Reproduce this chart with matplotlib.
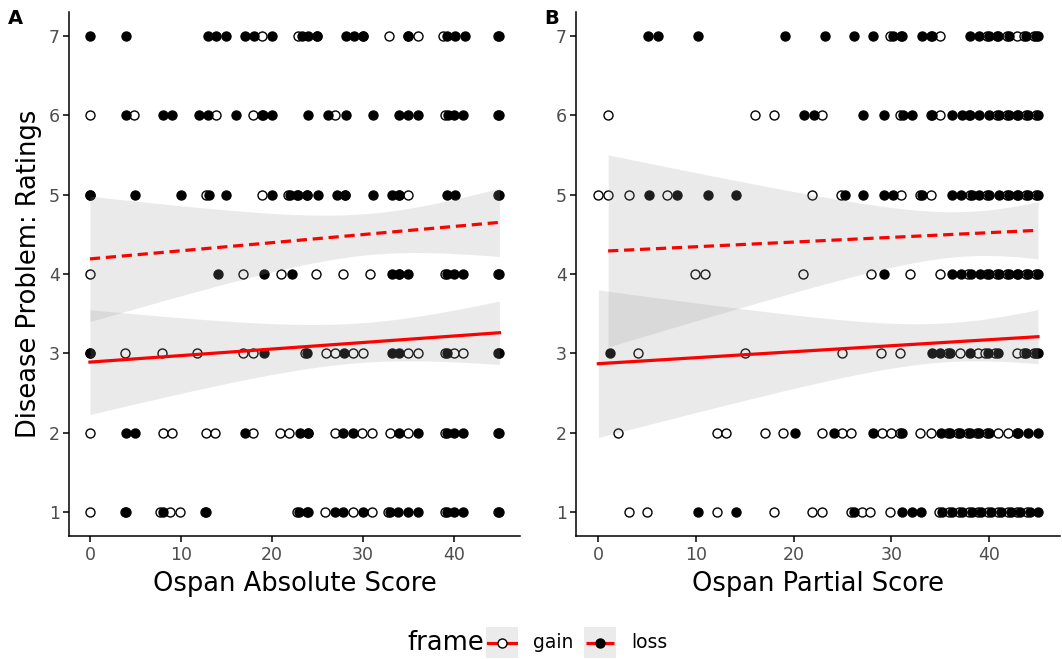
import numpy as np
import matplotlib
matplotlib.use("Agg")
import matplotlib.pyplot as plt

ratings = [7, 6, 5, 4, 3, 2, 1]

# Panel A: Ospan Absolute Score, x values per rating row
a_gain_x = [
    [18.9, 22.9, 24.9, 30, 32.9, 35, 36, 38.8, 44.8],
    [0, 4.8, 13.9, 17.9, 18.9, 26.9, 39, 44.8],
    [0, 12.8, 18.9, 21.8, 22.8, 23.8, 28, 34, 35, 44.8],
    [0, 16.8, 21, 24.8, 27.8, 30.8, 34, 39, 44.8],
    [0, 3.8, 7.9, 11.8, 16.8, 17.9, 23.6, 25.9, 26.9, 28.9, 30, 35, 36, 39, 40, 41, 44.8],
    [0, 8, 9, 12.7, 13.7, 17.9, 20.9, 21.9, 24, 26.9, 29.9, 31, 33, 35, 39, 44.8],
    [0, 3.8, 7.7, 8.8, 9.9, 12.6, 22.8, 23.8, 25.8, 28.9, 31, 32.8, 39, 44.8],
]
a_loss_x = [
    [0, 4, 13, 13.9, 14.9, 17, 18, 20, 23.3, 24, 24.9, 28.1, 29, 30, 34.9, 39.2, 40.1, 41.2, 45],
    [4, 8, 9, 12, 13, 16, 19, 20, 24, 26.2, 28.1, 31.1, 34, 35, 36, 39.3, 40, 41, 45],
    [0, 5, 10, 13.1, 15, 20, 22, 22.9, 23.9, 25.1, 27.1, 28, 31.1, 33.2, 34, 39.2, 40.1, 45],
    [14.1, 19.1, 22.2, 33.2, 34, 35, 39.2, 40, 41, 45],
    [0, 19.1, 23.9, 27.9, 33.2, 34, 39.2, 45],
    [4, 5, 17, 23.1, 24, 27.8, 28.9, 34, 36, 39.2, 40, 41, 45],
    [4, 8, 12.8, 23, 24, 26.9, 27.8, 30, 33, 33.9, 35, 36, 39.2, 40, 41, 45],
]

# Panel B: Ospan Partial Score
b_gain_x = [
    [29.9, 31, 34, 35, 39.8, 40.8, 41.8, 42.9, 43.6, 44.6],
    [1, 16, 18, 22.9, 30.9, 34, 35, 37.9, 40.8, 41.8, 42.8, 43.8, 44.8],
    [0, 1, 3.1, 7, 21.9, 24.8, 31, 32.9, 34, 38, 39.8, 41.8, 42.8, 43.8, 44.8],
    [9.9, 10.9, 20.9, 27.9, 31.9, 35, 37.8, 39.8, 40.8, 41.8, 42.8, 43.8, 44.8],
    [4.1, 15, 24.9, 28.9, 30.9, 35.8, 37, 38.9, 39.6, 40.6, 42.9, 43.6, 44.6],
    [2, 12.1, 13.1, 17.1, 18.9, 22.9, 24.9, 25.9, 29, 30, 30.9, 32.9, 34, 35.8, 36.8,
     37.8, 38.8, 39.8, 40.9, 41.9, 42.8],
    [3.1, 5, 12.1, 18, 21.9, 22.9, 25.9, 27, 27.8, 29.9, 34.9, 35.9, 36.9, 37.9, 38.9,
     39.9, 40.9, 41.9, 42.9, 43.9],
]
b_loss_x = [
    [5.1, 6.1, 10.2, 19.1, 23.2, 26.2, 28.1, 30.2, 31.1, 33.1, 34.1, 38, 39, 40, 40.9, 42,
     43.8, 44.8, 45],
    [21.1, 22.1, 27.1, 29.2, 31.2, 32.1, 34.2, 36.2, 37.2, 38, 39, 40, 41, 42, 43, 44, 45],
    [5.2, 8.1, 11.2, 14.1, 25.2, 27.1, 29.2, 30.2, 33.1, 36.2, 37.1, 38.2, 39, 40, 41, 42,
     43, 44, 45],
    [29.2, 36.2, 37.1, 38.1, 39.1, 40, 41, 42, 43, 44, 45],
    [1.2, 34.1, 35, 36, 38, 39.9, 40.9, 43.8, 44.8, 45],
    [20.1, 24.1, 28.1, 31.1, 35.1, 36, 37, 38, 39, 40, 43, 44, 45],
    [10.2, 14.1, 26.2, 31.1, 32.1, 33, 35.2, 36.2, 37.2, 38.2, 39.2, 40.2, 41.2, 42.2,
     43.2, 44.2, 45],
]

# linear fits: x range, fitted y at both ends,
# CI half-width at start / narrowest / end
a_gain_fit = dict(x=(0, 45), y=(2.89, 3.26), hw=(0.66, 0.25, 0.40))
a_loss_fit = dict(x=(0, 45), y=(4.19, 4.65), hw=(0.79, 0.26, 0.43))
b_gain_fit = dict(x=(0, 45), y=(2.87, 3.21), hw=(0.93, 0.245, 0.34))
b_loss_fit = dict(x=(1, 45), y=(4.29, 4.55), hw=(1.21, 0.28, 0.36))

frames = ['gain', 'loss']

plt.rcParams['font.family'] = 'DejaVu Sans'
fig = plt.figure(figsize=(10.62, 6.59), dpi=100)
axA = fig.add_axes([0.0654, 0.1867, 0.4242, 0.7951])
axB = fig.add_axes([0.5427, 0.1867, 0.4554, 0.7951])


def draw_fit(ax, fit, ls):
    x0, x1 = fit['x']
    hs, h0, he = fit['hw']
    # hyperbolic confidence band of a linear fit
    r = np.sqrt((hs**2 - h0**2) / (he**2 - h0**2))
    m = x0 + (x1 - x0) * r / (1 + r)
    k = (he**2 - h0**2) / (x1 - m)**2
    xs = np.linspace(x0, x1, 80)
    ys = np.interp(xs, fit['x'], fit['y'])
    hw = np.sqrt(h0**2 + k * (xs - m)**2)
    ax.fill_between(xs, ys - hw, ys + hw, color='#999999', alpha=0.2, lw=0, zorder=3)
    ax.plot(xs, ys, color='red', lw=2.3, linestyle=ls, zorder=4,
            dash_capstyle='butt')


def panel(ax, gain_x, loss_x, gain_fit, loss_fit, xlabel, tag):
    for r, gx, lx in zip(ratings, gain_x, loss_x):
        ax.scatter(gx, [r] * len(gx), s=42, facecolor='white', edgecolor='black',
                   linewidth=1.0, zorder=2)
        ax.scatter(lx, [r] * len(lx), s=42, facecolor='black', edgecolor='black',
                   linewidth=1.0, zorder=2)
    draw_fit(ax, gain_fit, '-')
    draw_fit(ax, loss_fit, (0, (3.2, 1.8)))
    ax.set_xlim(-2.25, 47.25)
    ax.set_ylim(0.7, 7.3)
    ax.set_xticks([0, 10, 20, 30, 40])
    ax.set_yticks(ratings)
    for s in ['top', 'right']:
        ax.spines[s].set_visible(False)
    for s in ['left', 'bottom']:
        ax.spines[s].set_linewidth(1.1)
    ax.tick_params(length=4, width=1.1, labelsize=12.5, labelcolor='#4D4D4D', pad=3)
    ax.set_xlabel(xlabel, fontsize=18.5, labelpad=5)
    fig.text(8 / 1062 if tag == 'A' else 544 / 1062, 1 - 9 / 659, tag,
             fontsize=14, fontweight='bold', va='top', ha='left')


panel(axA, a_gain_x, a_loss_x, a_gain_fit, a_loss_fit, 'Ospan Absolute Score', 'A')
panel(axB, b_gain_x, b_loss_x, b_gain_fit, b_loss_fit, 'Ospan Partial Score', 'B')
axA.set_ylabel('Disease Problem: Ratings', fontsize=18.5, labelpad=5)

# legend built by hand: grey key boxes with line + point, labels to the right
W, H = 1062, 659
fig.text(407 / W, 1 - 643 / H, 'frame', fontsize=18.5, va='center', ha='left')
key_left = [486, 584]
for left, fr in zip(key_left, frames):
    kax = fig.add_axes([left / W, 1 - 658 / H, 32 / W, 31 / H])
    kax.set_facecolor('#EBEBEB')
    kax.set_xlim(0, 1)
    kax.set_ylim(0, 1)
    kax.set_xticks([])
    kax.set_yticks([])
    for s in kax.spines.values():
        s.set_visible(False)
    ls = '-' if fr == 'gain' else (0, (5, 0.6))
    kax.plot([0.07, 0.93], [0.5, 0.5], color='red', lw=2.3, linestyle=ls)
    kax.scatter([0.5], [0.5], s=42, facecolor='white' if fr == 'gain' else 'black',
                edgecolor='black', linewidth=1.0, zorder=3)
    fig.text((left + 47) / W, 1 - 643 / H, fr, fontsize=13.5, va='center', ha='left')

fig.savefig('out.png', dpi=100)
